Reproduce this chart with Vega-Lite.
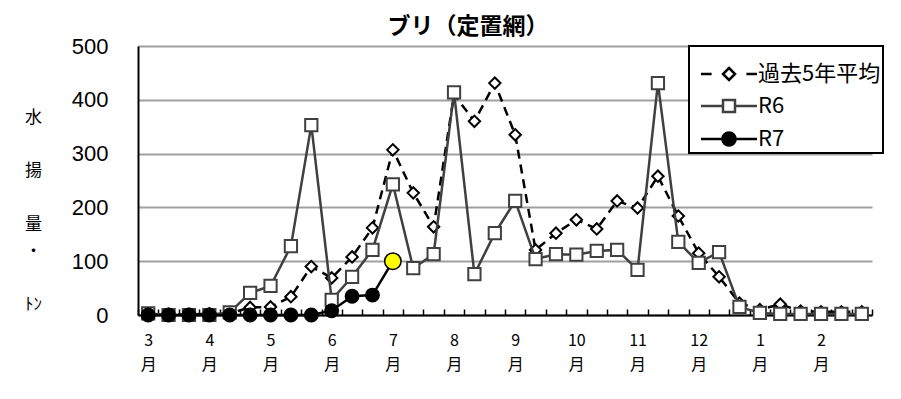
{
  "$schema": "https://vega.github.io/schema/vega-lite/v6.json",
  "width": 734,
  "height": 269,
  "autosize": {"type": "none"},
  "padding": {"left": 138, "top": 46, "right": 29, "bottom": 84},
  "background": "white",
  "title": {
    "text": "ブリ（定置網）",
    "font": "Noto Sans CJK JP",
    "fontSize": 23,
    "fontWeight": "bold",
    "color": "black",
    "anchor": "middle",
    "dx": -37,
    "offset": -4
  },
  "config": {
    "view": {"stroke": null},
    "legend": {
      "orient": "none",
      "legendX": 551,
      "legendY": 0,
      "strokeColor": "black",
      "strokeWidth": 2,
      "fillColor": "white",
      "padding": 2,
      "symbolOffset": 27,
      "labelOffset": 18,
      "rowPadding": 10,
      "labelFontSize": 22,
      "labelFont": "Liberation Sans Narrow, Noto Sans CJK JP",
      "labelColor": "black",
      "symbolSize": 144,
      "symbolStrokeWidth": 2.5,
      "labelLimit": 300,
      "titleFontSize": 8,
      "titlePadding": 7
    }
  },
  "data": {
    "values": [
      {"i": 0, "past": 2, "R6": 3, "R7": 0},
      {"i": 1, "past": 1, "R6": 0, "R7": 0},
      {"i": 2, "past": 1, "R6": 0, "R7": 0},
      {"i": 3, "past": 2, "R6": 0, "R7": 0},
      {"i": 4, "past": 3, "R6": 5, "R7": 0},
      {"i": 5, "past": 14, "R6": 41, "R7": 0},
      {"i": 6, "past": 15, "R6": 54, "R7": 0},
      {"i": 7, "past": 34, "R6": 128, "R7": 0},
      {"i": 8, "past": 90, "R6": 353, "R7": 0},
      {"i": 9, "past": 69, "R6": 28, "R7": 8},
      {"i": 10, "past": 108, "R6": 71, "R7": 35},
      {"i": 11, "past": 162, "R6": 121, "R7": 37},
      {"i": 12, "past": 307, "R6": 243, "R7": 100},
      {"i": 13, "past": 227, "R6": 87},
      {"i": 14, "past": 164, "R6": 113},
      {"i": 15, "past": 410, "R6": 414},
      {"i": 16, "past": 360, "R6": 76},
      {"i": 17, "past": 431, "R6": 152},
      {"i": 18, "past": 335, "R6": 212},
      {"i": 19, "past": 121, "R6": 104},
      {"i": 20, "past": 152, "R6": 113},
      {"i": 21, "past": 177, "R6": 112},
      {"i": 22, "past": 160, "R6": 119},
      {"i": 23, "past": 212, "R6": 121},
      {"i": 24, "past": 199, "R6": 84},
      {"i": 25, "past": 258, "R6": 431},
      {"i": 26, "past": 184, "R6": 136},
      {"i": 27, "past": 115, "R6": 97},
      {"i": 28, "past": 71, "R6": 117},
      {"i": 29, "past": 22, "R6": 15},
      {"i": 30, "past": 10, "R6": 4},
      {"i": 31, "past": 20, "R6": 2},
      {"i": 32, "past": 7, "R6": 2},
      {"i": 33, "past": 6, "R6": 2},
      {"i": 34, "past": 6, "R6": 2},
      {"i": 35, "past": 6, "R6": 2}
    ]
  },
  "encoding": {
    "x": {
      "field": "i",
      "type": "quantitative",
      "scale": {"domain": [-0.5, 35.5], "nice": false, "zero": false},
      "axis": null
    }
  },
  "layer": [
    {
      "mark": {"type": "line", "color": "black", "strokeWidth": 2.5, "strokeDash": [9, 6], "clip": false},
      "encoding": {
        "x": {
          "field": "i",
          "type": "quantitative",
          "scale": {"domain": [-0.5, 35.5], "nice": false, "zero": false},
          "axis": {
            "orient": "bottom",
            "title": null,
            "grid": false,
            "ticks": false,
            "values": [-0.5, 0.5, 1.5, 2.5, 3.5, 4.5, 5.5, 6.5, 7.5, 8.5, 9.5, 10.5, 11.5, 12.5, 13.5, 14.5, 15.5, 16.5, 17.5, 18.5, 19.5, 20.5, 21.5, 22.5, 23.5, 24.5, 25.5, 26.5, 27.5, 28.5, 29.5, 30.5, 31.5, 32.5, 33.5, 34.5, 35.5],
            "labelExpr": "(datum.value + 0.5) % 3 === 0 && datum.value < 35 ? [toString(((datum.value + 0.5) / 3 + 2) % 12 + 1), '月'] : ''",
            "labelOffset": 10.2,
            "labelBound": false,
            "labelOverlap": false,
            "labelFlush": false,
            "labelFont": "Liberation Sans Narrow, Noto Sans CJK JP",
            "labelFontSize": 16,
            "labelColor": "black",
            "labelLineHeight": 24,
            "labelBaseline": "top",
            "labelPadding": 17,
            "domainColor": "black",
            "domainWidth": 2
          }
        },
        "y": {
          "field": "past",
          "type": "quantitative",
          "scale": {"domain": [0, 500], "nice": false},
          "axis": {
            "title": ["水", "\u200b", "揚", "\u200b\u200b", "量", "・", "\u200b\u200b\u200b", "ﾄﾝ"],
            "titleAngle": 0,
            "titleFont": "Noto Sans CJK JP",
            "titleFontSize": 17,
            "titleFontWeight": "normal",
            "titleColor": "black",
            "titleLineHeight": 26.8,
            "titleX": -105,
            "titleY": 63,
            "titleAlign": "center",
            "titleBaseline": "top",
            "values": [0, 100, 200, 300, 400, 500],
            "grid": true,
            "gridColor": "#a0a0a0",
            "gridWidth": 2,
            "ticks": false,
            "labelPadding": 30,
            "labelFont": "Liberation Sans Narrow, Liberation Sans",
            "labelFontSize": 22,
            "labelColor": "black",
            "domainColor": "black",
            "domainWidth": 2
          }
        }
      }
    },
    {
      "mark": {"type": "point", "shape": "diamond", "size": 130, "filled": true, "fill": "white", "stroke": "black", "strokeWidth": 2, "opacity": 1, "clip": false},
      "encoding": {"y": {"field": "past", "type": "quantitative"}}
    },
    {
      "mark": {"type": "line", "color": "#404040", "strokeWidth": 2.5, "clip": false},
      "encoding": {
        "x": {
          "field": "i",
          "type": "quantitative",
          "scale": {"domain": [-0.5, 35.5], "nice": false, "zero": false},
          "axis": {
            "orient": "top",
            "offset": -269,
            "title": null,
            "grid": false,
            "domain": false,
            "labels": false,
            "ticks": true,
            "tickSize": 6,
            "tickWidth": 1.5,
            "tickColor": "black",
            "values": [-0.5, 0.5, 1.5, 2.5, 3.5, 4.5, 5.5, 6.5, 7.5, 8.5, 9.5, 10.5, 11.5, 12.5, 13.5, 14.5, 15.5, 16.5, 17.5, 18.5, 19.5, 20.5, 21.5, 22.5, 23.5, 24.5, 25.5, 26.5, 27.5, 28.5, 29.5, 30.5, 31.5, 32.5, 33.5, 34.5, 35.5]
          }
        },
        "y": {"field": "R6", "type": "quantitative"}
      }
    },
    {
      "mark": {"type": "point", "shape": "square", "size": 150, "filled": true, "fill": "white", "stroke": "#404040", "strokeWidth": 2, "opacity": 1, "clip": false},
      "encoding": {"y": {"field": "R6", "type": "quantitative"}}
    },
    {
      "transform": [{"filter": "isValid(datum.R7)"}],
      "mark": {"type": "line", "color": "black", "strokeWidth": 2.5, "clip": false},
      "encoding": {"y": {"field": "R7", "type": "quantitative"}}
    },
    {
      "transform": [{"filter": "isValid(datum.R7)"}],
      "mark": {"type": "point", "shape": "circle", "filled": true, "stroke": "black", "strokeWidth": 1.5, "opacity": 1, "clip": false},
      "encoding": {
        "y": {"field": "R7", "type": "quantitative"},
        "fill": {"condition": {"test": "datum.i === 12", "value": "#FFFF00"}, "value": "black"},
        "size": {"condition": {"test": "datum.i === 12", "value": 270}, "value": 180}
      }
    },
    {
      "data": {"values": [{"series": "過去5年平均"}, {"series": "R6"}, {"series": "R7"}]},
      "transform": [{"filter": "false"}],
      "mark": {"type": "point", "filled": true, "size": 144, "strokeWidth": 2.5, "opacity": 1},
      "encoding": {
        "shape": {
          "field": "series",
          "type": "nominal",
          "title": " ",
          "scale": {
            "domain": ["過去5年平均", "R6", "R7"],
            "range": [
              "M-4.67,0H-2.9M2.9,0H4.67M0,-1L1,0L0,1L-1,0Z",
              "M-4.67,0H-1M1,0H4.67M-1,-1H1V1H-1Z",
              "M-4.67,0H-1.1M1.1,0H4.67M-1.1,0A1.1,1.1,0,1,0,1.1,0A1.1,1.1,0,1,0,-1.1,0Z"
            ]
          }
        },
        "fill": {
          "field": "series",
          "type": "nominal",
          "title": " ",
          "scale": {"domain": ["過去5年平均", "R6", "R7"], "range": ["white", "white", "black"]}
        },
        "stroke": {
          "field": "series",
          "type": "nominal",
          "title": " ",
          "scale": {"domain": ["過去5年平均", "R6", "R7"], "range": ["black", "#404040", "black"]}
        }
      }
    }
  ]
}
